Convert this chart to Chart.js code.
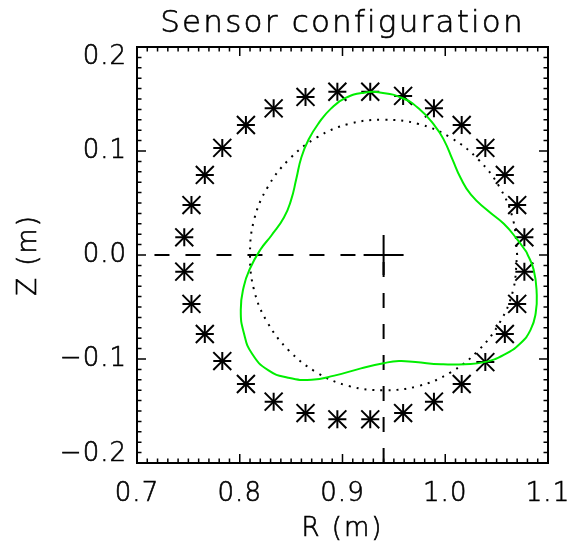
<!DOCTYPE html>
<html>
<head>
<meta charset="utf-8">
<title>Sensor configuration</title>
<script src="https://cdn.jsdelivr.net/npm/chart.js@4.4.0/dist/chart.umd.min.js"></script>
<style>
  html, body { margin: 0; padding: 0; background: #fff; }
</style>
</head>
<body>
<canvas id="sensor_chart" width="570" height="548"></canvas>
<script>
// probe positions (m)
var sensor_r = [1.077, 1.070, 1.058, 1.039, 1.016, 0.989, 0.959, 0.927,
                0.895, 0.864, 0.833, 0.806, 0.783, 0.766, 0.753, 0.746,
                0.746, 0.753, 0.766, 0.783, 0.806, 0.833, 0.864, 0.895,
                0.927, 0.959, 0.989, 1.016, 1.039, 1.058, 1.070, 1.077];
var sensor_z = [0.017, 0.048, 0.077, 0.103, 0.125, 0.141, 0.153, 0.157,
                0.157, 0.152, 0.141, 0.125, 0.103, 0.077, 0.048, 0.017,
                -0.016, -0.047, -0.076, -0.102, -0.124, -0.141, -0.152, -0.158,
                -0.158, -0.152, -0.141, -0.124, -0.103, -0.076, -0.047, -0.016];

// plasma boundary (green)
var boundary_r = [1.079, 1.070, 1.057, 1.041, 1.025, 1.015, 1.007, 0.999, 0.990, 0.974,
                  0.958, 0.938, 0.921, 0.903, 0.889, 0.877, 0.867, 0.860, 0.855, 0.850,
                  0.843, 0.831, 0.820, 0.810, 0.804, 0.801, 0.804, 0.812, 0.828, 0.847,
                  0.870, 0.892, 0.918, 0.940, 0.955, 0.971, 0.996, 1.019, 1.038, 1.057,
                  1.073, 1.083, 1.088, 1.089, 1.086, 1.079];
var boundary_z = [0.003, 0.015, 0.030, 0.043, 0.058, 0.074, 0.092, 0.110, 0.124, 0.141,
                  0.151, 0.156, 0.156, 0.151, 0.141, 0.127, 0.111, 0.094, 0.073, 0.053,
                  0.036, 0.019, 0.005, -0.013, -0.030, -0.053, -0.075, -0.095, -0.111, -0.118,
                  -0.120, -0.116, -0.109, -0.104, -0.102, -0.103, -0.105, -0.105, -0.103, -0.096,
                  -0.085, -0.072, -0.056, -0.037, -0.014, 0.003];

// reference circle (dotted)
var circle_r = [1.070, 1.066, 1.053, 1.032, 1.005, 0.974, 0.940, 0.906, 0.875, 0.848,
                0.827, 0.814, 0.810, 0.814, 0.827, 0.848, 0.875, 0.906, 0.940, 0.974,
                1.005, 1.032, 1.053, 1.066, 1.070];
var circle_z = [0.000, 0.034, 0.065, 0.092, 0.113, 0.126, 0.130, 0.126, 0.113, 0.092,
                0.065, 0.034, 0.000, -0.034, -0.065, -0.092, -0.113, -0.126, -0.130, -0.126,
                -0.113, -0.092, -0.065, -0.034, 0.000];

// centre marker and guide lines
var centre_r = 0.94;
var centre_z = 0.0;
var guide_r_start = 0.717;
var guide_z_start = -0.2;

var r_ticks = [0.7, 0.8, 0.9, 1.0, 1.1];
var z_ticks = [-0.2, -0.1, 0.0, 0.1, 0.2];
var r_tick_labels = ['0.7', '0.8', '0.9', '1.0', '1.1'];
var z_tick_labels = ['\u22120.2', '\u22120.1', '0.0', '0.1', '0.2'];

function toPoints(xs, ys) {
    var out = [];
    for (var i = 0; i < xs.length; i++) {
        out.push({ x: xs[i], y: ys[i] });
    }
    return out;
}

var FONT = '"DejaVu Sans", sans-serif';

function thinText(ctx, txt, x, y) {
    ctx.fillText(txt, x, y);
    ctx.strokeText(txt, x, y);
}

// frame with inward ticks, tick labels and titles
var idl_axes = {
    id: 'idl_axes',
    afterDraw: function (chart) {
        var ctx = chart.ctx;
        var xs = chart.scales.x;
        var ys = chart.scales.y;
        var a = chart.chartArea;
        var i, j, v, p, len;

        ctx.save();
        ctx.strokeStyle = '#000';
        ctx.lineWidth = 2;
        ctx.strokeRect(a.left, a.top, a.right - a.left, a.bottom - a.top);

        ctx.lineWidth = 1.5;
        ctx.beginPath();
        for (i = 0; i < r_ticks.length; i++) {
            for (j = 0; j < 10; j++) {
                if (i == r_ticks.length - 1 && j > 0) break;
                v = r_ticks[i] + j * 0.01;
                p = xs.getPixelForValue(v);
                len = (j == 0) ? 9 : 4.5;
                ctx.moveTo(p, a.bottom); ctx.lineTo(p, a.bottom - len);
                ctx.moveTo(p, a.top); ctx.lineTo(p, a.top + len);
            }
        }
        for (i = 0; i < z_ticks.length; i++) {
            for (j = 0; j < 10; j++) {
                if (i == z_ticks.length - 1 && j > 0) break;
                v = z_ticks[i] + j * 0.01;
                p = ys.getPixelForValue(v);
                len = (j == 0) ? 9 : 4.5;
                ctx.moveTo(a.left, p); ctx.lineTo(a.left + len, p);
                ctx.moveTo(a.right, p); ctx.lineTo(a.right - len, p);
            }
        }
        ctx.stroke();

        ctx.fillStyle = '#000';
        ctx.lineWidth = 0.6;
        ctx.font = '300 26px ' + FONT;
        ctx.letterSpacing = '1px';
        ctx.textAlign = 'center';
        ctx.textBaseline = 'middle';
        for (i = 0; i < r_ticks.length; i++) {
            thinText(ctx, r_tick_labels[i], xs.getPixelForValue(r_ticks[i]), a.bottom + 31);
        }
        ctx.textAlign = 'right';
        for (i = 0; i < z_ticks.length; i++) {
            p = ys.getPixelForValue(z_ticks[i]);
            if (i == 0) p -= 9;
            if (i == z_ticks.length - 1) p += 10;
            thinText(ctx, z_tick_labels[i], a.left - 10, p);
        }

        ctx.textAlign = 'center';
        ctx.letterSpacing = '2px';
        thinText(ctx, 'R (m)', (a.left + a.right) / 2, a.bottom + 66);

        ctx.save();
        ctx.translate(29, (a.top + a.bottom) / 2);
        ctx.rotate(-Math.PI / 2);
        thinText(ctx, 'Z (m)', 0, 0);
        ctx.restore();

        ctx.font = '300 31px ' + FONT;
        ctx.letterSpacing = '2.2px';
        ctx.textBaseline = 'alphabetic';
        thinText(ctx, 'Sensor configuration', (a.left + a.right) / 2, 32);
        ctx.restore();
    }
};

var sensor_points = toPoints(sensor_r, sensor_z);

var sensor_chart = new Chart(document.getElementById('sensor_chart'), {
    type: 'scatter',
    data: {
        datasets: [
            {
                label: 'boundary',
                data: toPoints(boundary_r, boundary_z),
                showLine: true,
                borderColor: '#00ee00',
                borderWidth: 2,
                pointRadius: 0,
                tension: 0.5
            },
            {
                // asterisk = upright cross + diagonal cross of the same box
                label: 'sensors',
                data: sensor_points,
                pointStyle: 'cross',
                pointRadius: 9,
                borderColor: '#000',
                borderWidth: 2
            },
            {
                label: 'sensors_diag',
                data: sensor_points,
                pointStyle: 'crossRot',
                pointRadius: 12.7,
                borderColor: '#000',
                borderWidth: 2
            },
            {
                label: 'circle',
                data: toPoints(circle_r, circle_z),
                showLine: true,
                borderColor: '#000',
                borderWidth: 2,
                borderDash: [2, 6],
                pointRadius: 0,
                tension: 0.4
            },
            {
                label: 'horizontal',
                data: [{ x: guide_r_start, y: centre_z }, { x: centre_r, y: centre_z }],
                showLine: true,
                borderColor: '#000',
                borderWidth: 2,
                borderDash: [15, 16],
                pointRadius: 0
            },
            {
                label: 'vertical',
                data: [{ x: centre_r, y: guide_z_start }, { x: centre_r, y: centre_z }],
                showLine: true,
                borderColor: '#000',
                borderWidth: 2,
                borderDash: [15, 16],
                pointRadius: 0
            },
            {
                label: 'centre',
                data: [{ x: centre_r, y: centre_z }],
                pointStyle: 'cross',
                pointRadius: 20,
                borderColor: '#000',
                borderWidth: 2
            }
        ]
    },
    options: {
        responsive: false,
        animation: false,
        devicePixelRatio: 1,
        layout: {
            padding: { left: 137, right: 17, top: 47, bottom: 85 }
        },
        scales: {
            x: { type: 'linear', min: 0.7, max: 1.1, display: false },
            y: { type: 'linear', min: -0.2, max: 0.2, display: false }
        },
        plugins: {
            legend: { display: false },
            title: { display: false },
            tooltip: { enabled: false }
        }
    },
    plugins: [idl_axes]
});
</script>
</body>
</html>
